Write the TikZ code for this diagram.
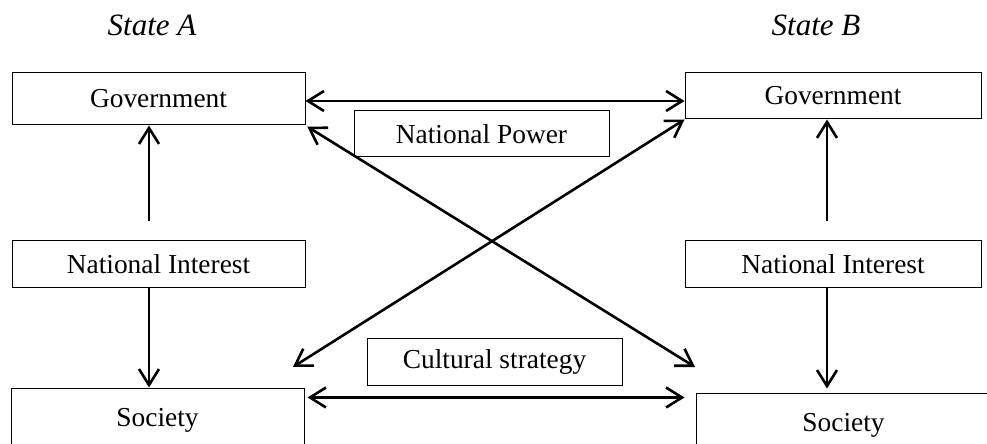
\documentclass[tikz,border=0pt]{standalone}
\usepackage{fontspec}
\setmainfont{Liberation Serif}
\usetikzlibrary{arrows.meta}

\tikzset{
  box/.style={draw,line width=0.5pt,inner sep=0pt,font=\fontsize{13.7}{16}\selectfont},
  link/.style={line width=1.3pt,{Straight Barb[length=8pt,width=10pt]}-{Straight Barb[length=8pt,width=10pt]}},
  uplink/.style={line width=1.3pt,-{Straight Barb[length=8pt,width=10pt]}},
  statelabel/.style={font=\fontsize{15.5}{18}\selectfont\itshape}
}

\begin{document}
\begin{tikzpicture}[x=0.5pt,y=0.5pt,yscale=-1,xscale=1]
\useasboundingbox (0,0) rectangle (987,444);

% Text Node
\node[statelabel] (stateA) at (152,25) {State A};
% Text Node
\node[statelabel] (stateB) at (816,25) {State B};

%Shape: Rectangle
\node[box,minimum width=146.5pt,minimum height=26pt] (govA) at (158.5,99) {Government};
\node[box,minimum width=148pt,minimum height=23pt] (govB) at (833,96) {Government};
\node[box,minimum width=127.5pt,minimum height=23pt] (power) at (481.5,134) {National Power};
\node[box,minimum width=146.5pt,minimum height=23.5pt] (niA) at (158.5,264.5) {National Interest};
\node[box,minimum width=148pt,minimum height=23.5pt] (niB) at (833,264.5) {National Interest};
\node[box,minimum width=127.5pt,minimum height=23pt] (cult) at (494.5,362) {Cultural strategy};
\node[box,minimum width=146.5pt,minimum height=32pt] (socA) at (157.5,420) {Society};
\node[box,minimum width=147.5pt,minimum height=32pt] (socB) at (843.5,425) {Society};

\coordinate (crossA) at (293,367);
\coordinate (crossB) at (695,367);

%Straight Lines
\draw[link] ([yshift=1pt]govA.east) -- ([yshift=1pt]govA.east -| govB.west);
\draw[link,shorten <=1pt] (govA.south east) -- (crossB);
\draw[link] (crossA) -- (govB.south west);
\draw[link,shorten <=1.5pt,shorten >=5.5pt] ([yshift=5pt]socA.north east) -- ([yshift=5pt]socA.north east -| socB.west);

%Straight Lines
\draw[uplink] ([xshift=-4.75pt,yshift=-9.5pt]niA.north) -- ([xshift=-4.75pt]govA.south);
\draw[uplink] ([xshift=-4.75pt]niA.south) -- ([xshift=-4.75pt]niA.south |- socA.north);
\draw[uplink] ([xshift=-3pt,yshift=-9.5pt]niB.north) -- ([xshift=-3pt]govB.south);
\draw[uplink,shorten >=2pt] ([xshift=-3pt]niB.south) -- ([xshift=-3pt]niB.south |- socB.north);

\end{tikzpicture}
\end{document}
